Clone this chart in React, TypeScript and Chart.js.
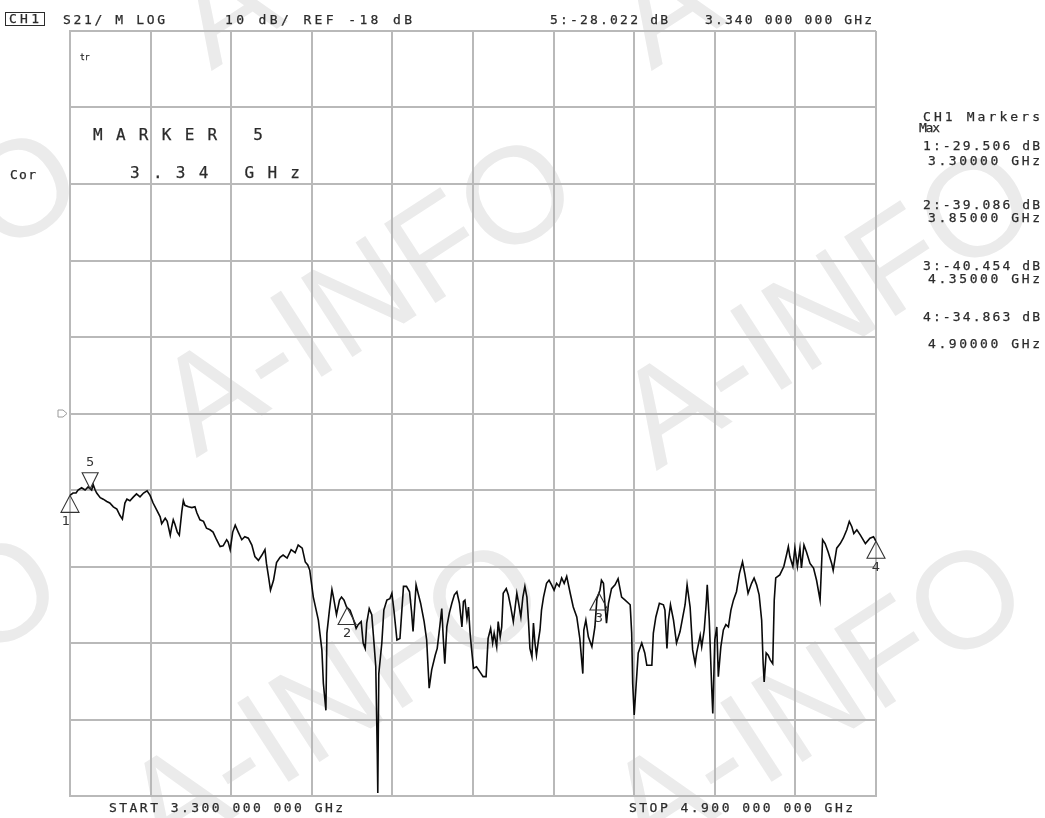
import React, { useEffect, useRef } from "react";
import { Chart, registerables } from "chart.js";

Chart.register(...registerables);

// Sweep points (MHz) and S21 trace (dB)
const FREQ_MHZ = [
  3300, 3306, 3312, 3316, 3323, 3330, 3336, 3343, 3346, 3350,
  3353, 3360, 3366, 3373, 3379, 3386, 3393, 3399, 3404, 3409,
  3413, 3419, 3426, 3432, 3439, 3446, 3453, 3459, 3465, 3472,
  3479, 3482, 3489, 3493, 3499, 3502, 3505, 3508, 3513, 3517,
  3522, 3525, 3528, 3535, 3542, 3548, 3552, 3558, 3565, 3571,
  3578, 3584, 3591, 3598, 3604, 3611, 3614, 3618, 3623, 3628,
  3634, 3641, 3647, 3654, 3661, 3667, 3674, 3681, 3687, 3690,
  3694, 3698, 3704, 3710, 3717, 3723, 3731, 3739, 3747, 3753,
  3761, 3767, 3772, 3776, 3783, 3793, 3800, 3803, 3808, 3810,
  3815, 3820, 3823, 3829, 3835, 3839, 3844, 3849, 3856, 3862,
  3868, 3872, 3878, 3882, 3886, 3889, 3894, 3899, 3903, 3907,
  3910, 3911, 3913, 3919, 3923, 3929, 3935, 3939, 3943, 3949,
  3955, 3962, 3968, 3974, 3978, 3981, 3987, 3991, 3996, 4003,
  4008, 4013, 4018, 4025, 4029, 4034, 4038, 4041, 4044, 4048,
  4053, 4058, 4063, 4068, 4073, 4078, 4081, 4084, 4088, 4091,
  4094, 4097, 4101, 4107, 4114, 4120, 4126, 4130, 4135, 4139,
  4142, 4147, 4150, 4154, 4157, 4160, 4166, 4170, 4175, 4180,
  4183, 4187, 4190, 4195, 4199, 4203, 4207, 4210, 4213, 4217,
  4220, 4223, 4226, 4230, 4233, 4236, 4240, 4246, 4251, 4256,
  4261, 4266, 4271, 4276, 4281, 4286, 4293, 4299, 4306, 4312,
  4318, 4320, 4324, 4329, 4336, 4342, 4346, 4352, 4355, 4359,
  4362, 4365, 4369, 4375, 4382, 4388, 4395, 4402, 4412, 4415,
  4417, 4420, 4424, 4428, 4435, 4441, 4445, 4455, 4458, 4463,
  4470, 4478, 4481, 4485, 4488, 4492, 4498, 4504, 4511, 4521,
  4525, 4531, 4536, 4541, 4544, 4551, 4554, 4559, 4563, 4565,
  4569, 4574, 4576, 4580, 4584, 4587, 4592, 4597, 4602, 4607,
  4612, 4617, 4623, 4629, 4635, 4640, 4646, 4653, 4658, 4663,
  4668, 4673, 4676, 4678, 4682, 4686, 4690, 4695, 4698, 4701,
  4709, 4717, 4723, 4726, 4729, 4735, 4739, 4744, 4749, 4752,
  4757, 4762, 4769, 4776, 4782, 4789, 4794, 4799, 4805, 4812,
  4815, 4822, 4829, 4835, 4842, 4847, 4852, 4856, 4862, 4869,
  4879, 4888, 4895, 4900,
];

const S21_DB = [
  -28.7, -28.4, -28.4, -28.0, -27.7, -28.0, -27.6, -28.0, -27.3, -28.0,
  -28.4, -29.0, -29.2, -29.5, -29.7, -30.2, -30.5, -31.3, -31.8, -29.7,
  -29.2, -29.4, -28.9, -28.5, -28.9, -28.4, -28.1, -28.7, -29.7, -30.6,
  -31.5, -32.4, -31.7, -32.1, -33.9, -32.8, -31.9, -32.4, -33.5, -33.9,
  -30.8, -29.4, -30.0, -30.2, -30.3, -30.2, -31.0, -31.9, -32.1, -33.0,
  -33.2, -33.5, -34.5, -35.4, -35.3, -34.5, -34.8, -35.8, -33.5, -32.6,
  -33.5, -34.5, -34.1, -34.3, -35.2, -36.7, -37.2, -36.5, -35.8, -37.6,
  -39.3, -41.1, -39.8, -37.5, -36.8, -36.5, -36.9, -35.8, -36.2, -35.2,
  -35.6, -37.4, -37.8, -38.5, -42.0, -45.0, -48.9, -53.3, -56.8, -46.7,
  -43.7, -41.0, -42.0, -44.3, -42.4, -42.0, -42.4, -43.3, -43.7, -44.8,
  -46.1, -45.6, -45.2, -48.0, -48.7, -45.4, -43.5, -44.3, -47.6, -51.1,
  -62.4, -67.6, -52.0, -48.0, -43.7, -42.4, -42.2, -41.5, -43.7, -47.6,
  -47.4, -40.6, -40.6, -41.3, -43.9, -46.5, -40.4, -41.5, -42.8, -45.2,
  -47.6, -53.9, -51.5, -49.6, -48.7, -45.9, -43.5, -47.4, -50.7, -45.9,
  -44.1, -42.8, -41.7, -41.3, -42.8, -45.9, -42.6, -42.4, -44.8, -43.3,
  -46.5, -48.7, -51.3, -51.1, -51.8, -52.4, -52.4, -47.4, -46.1, -48.0,
  -46.7, -48.5, -45.2, -47.2, -45.9, -41.5, -40.9, -41.7, -43.3, -45.2,
  -43.7, -41.5, -42.6, -44.6, -42.0, -40.6, -42.0, -45.0, -48.7, -49.8,
  -45.4, -48.0, -49.6, -47.6, -46.3, -43.7, -42.0, -40.2, -39.8, -40.4,
  -41.1, -40.2, -40.6, -39.5, -40.2, -39.3, -41.5, -43.3, -44.6, -47.4,
  -52.0, -46.3, -45.0, -47.2, -48.5, -45.9, -42.2, -41.1, -39.8, -40.2,
  -43.0, -45.4, -42.8, -40.9, -40.4, -39.6, -42.0, -42.4, -43.0, -46.7,
  -53.3, -57.4, -53.3, -49.3, -48.0, -49.3, -50.9, -50.9, -46.7, -44.6,
  -42.8, -43.0, -43.7, -48.7, -45.0, -43.0, -45.0, -48.0, -46.5, -43.0,
  -40.4, -43.3, -48.9, -50.7, -49.3, -47.0, -48.5, -46.3, -42.8, -40.4,
  -45.0, -54.1, -57.2, -47.6, -45.9, -52.4, -48.5, -46.3, -45.6, -45.9,
  -43.7, -42.4, -41.3, -38.9, -37.4, -39.1, -41.5, -40.2, -39.5, -40.4,
  -41.7, -45.0, -50.7, -53.1, -49.3, -49.6, -50.2, -50.7, -42.4, -39.5,
  -39.1, -38.0, -36.3, -35.4, -36.7, -38.0, -35.6, -38.0, -35.6, -38.2,
  -35.2, -36.1, -37.6, -38.2, -39.8, -42.4, -34.5, -35.0, -36.1, -37.6,
  -38.5, -35.6, -35.0, -34.3, -33.2, -32.1, -32.8, -33.7, -33.2, -33.9,
  -35.0, -34.3, -34.1, -34.7,
];

// Grid: 10 divisions each way, 10 dB/div, reference -18 dB at centre line
const X_GRID_MHZ = [3300, 3460, 3620, 3780, 3940, 4100, 4260, 4420, 4580, 4740, 4900];
const Y_GRID_DB = [-68, -58, -48, -38, -28, -18, -8, 2, 12, 22, 32];
const REF_DB = -18;

// Markers
const MARKER_IDS = [1, 2, 3, 4, 5];
const MARKER_FREQ_MHZ = [3300, 3850, 4350, 4900, 3340];
const MARKER_DB = [-29.506, -39.086, -40.454, -34.863, -28.022];
const ACTIVE_MARKER = 5;

const START_LABEL = "START 3.300 000 000 GHz";
const STOP_LABEL = "STOP 4.900 000 000 GHz";

const INK = "#2b2b2b";
const GRID = "#b9b9b9";
const MONO = '"DejaVu Sans Mono", monospace';

function traceAt(f: number): number {
  if (f <= FREQ_MHZ[0]) return S21_DB[0];
  for (let i = 1; i < FREQ_MHZ.length; i++) {
    if (f <= FREQ_MHZ[i]) {
      const t = (f - FREQ_MHZ[i - 1]) / (FREQ_MHZ[i] - FREQ_MHZ[i - 1]);
      return S21_DB[i - 1] + t * (S21_DB[i] - S21_DB[i - 1]);
    }
  }
  return S21_DB[S21_DB.length - 1];
}

const markerPlugin = {
  id: "vnaMarkers",
  afterDatasetsDraw(chart: any) {
    const { ctx, chartArea } = chart;
    const x = chart.scales.x;
    const y = chart.scales.y;
    ctx.save();
    // reference-level pointer at left edge
    const ry = y.getPixelForValue(REF_DB);
    const lx = chartArea.left;
    ctx.strokeStyle = "#9a9a9a";
    ctx.lineWidth = 1;
    ctx.beginPath();
    ctx.moveTo(lx - 12, ry - 3.5);
    ctx.lineTo(lx - 7, ry - 3.5);
    ctx.lineTo(lx - 3, ry);
    ctx.lineTo(lx - 7, ry + 3.5);
    ctx.lineTo(lx - 12, ry + 3.5);
    ctx.closePath();
    ctx.stroke();

    ctx.strokeStyle = "#333";
    ctx.fillStyle = "#333";
    ctx.lineWidth = 1.1;
    ctx.font = '13px "DejaVu Sans"';
    ctx.textAlign = "center";
    ctx.textBaseline = "middle";
    MARKER_IDS.forEach((id, i) => {
      const f = MARKER_FREQ_MHZ[i];
      const px = x.getPixelForValue(f);
      const py = y.getPixelForValue(traceAt(f));
      const active = id === ACTIVE_MARKER;
      const h = active ? 16 : 17;
      const w = active ? 8 : 9;
      ctx.beginPath();
      ctx.moveTo(px, py);
      if (active) {
        ctx.lineTo(px - w, py - h);
        ctx.lineTo(px + w, py - h);
      } else {
        ctx.lineTo(px - w, py + h);
        ctx.lineTo(px + w, py + h);
      }
      ctx.closePath();
      ctx.stroke();
      const ly = active ? py - h - 10 : py + h + 9;
      ctx.fillText(String(id), px - (i === 0 ? 4 : 0), ly);
    });
    ctx.restore();
  },
};

type LabelProps = {
  text: string;
  x: number;
  y: number;
  size?: number;
  width?: number;
  ls?: number;
  family?: string;
  color?: string;
};

function Label({ text, x, y, size = 13, width, ls, family = MONO, color = INK }: LabelProps) {
  let spacing = ls ?? 0;
  if (width !== undefined && text.length > 1) {
    const glyph = 0.602 * size;
    spacing = (width - glyph) / (text.length - 1) - glyph;
  }
  return (
    <div
      style={{
        position: "absolute",
        left: x,
        top: y - size / 2,
        fontFamily: family,
        fontSize: size,
        lineHeight: `${size}px`,
        letterSpacing: `${spacing}px`,
        color,
        whiteSpace: "pre",
        zIndex: 2,
        WebkitTextStroke: "0.25px " + color,
      }}
    >
      {text}
    </div>
  );
}

const WATERMARKS: [number, number][] = [
  [365, 292],
  [825, 305],
  [332, 697],
  [815, 697],
  [380, -95],
  [820, -95],
  [-130, 285],
  [-150, 690],
];

export default function App() {
  const canvasRef = useRef<HTMLCanvasElement>(null);

  useEffect(() => {
    if (!canvasRef.current) return;
    const chart = new Chart(canvasRef.current, {
      type: "line",
      data: {
        datasets: [
          {
            data: FREQ_MHZ.map((f, i) => ({ x: f, y: S21_DB[i] })),
            borderColor: "#0a0a0a",
            borderWidth: 1.6,
            pointRadius: 0,
            tension: 0,
            fill: false,
          },
        ],
      },
      options: {
        animation: false,
        responsive: false,
        devicePixelRatio: 1,
        layout: { padding: { left: 70, right: 169, top: 31, bottom: 22 } },
        plugins: { legend: { display: false }, tooltip: { enabled: false }, title: { display: false } },
        scales: {
          x: {
            type: "linear",
            min: X_GRID_MHZ[0],
            max: X_GRID_MHZ[X_GRID_MHZ.length - 1],
            afterBuildTicks: (s: any) => {
              s.ticks = X_GRID_MHZ.map((v) => ({ value: v }));
            },
            ticks: { display: false },
            grid: { color: GRID, lineWidth: 2, drawTicks: false },
            border: { color: GRID, width: 2 },
          },
          y: {
            type: "linear",
            min: Y_GRID_DB[0],
            max: Y_GRID_DB[Y_GRID_DB.length - 1],
            afterBuildTicks: (s: any) => {
              s.ticks = Y_GRID_DB.map((v) => ({ value: v }));
            },
            ticks: { display: false },
            grid: { color: GRID, lineWidth: 2, drawTicks: false },
            border: { color: GRID, width: 2 },
          },
        },
      },
      plugins: [markerPlugin],
    } as any);
    return () => chart.destroy();
  }, []);

  const active = MARKER_IDS.indexOf(ACTIVE_MARKER);
  const listIdx = MARKER_IDS.map((_, i) => i).filter((i) => MARKER_IDS[i] !== ACTIVE_MARKER);
  const dbRows = [145, 204, 265, 316];
  const fRows = [160, 217, 278, 343];

  return (
    <div
      style={{
        position: "absolute",
        left: 0,
        top: 0,
        width: 1045,
        height: 818,
        background: "#fff",
        overflow: "hidden",
      }}
    >
      {WATERMARKS.map(([cx, cy], i) => (
        <div
          key={"wm" + i}
          style={{
            position: "absolute",
            left: cx,
            top: cy,
            transform: "translate(-50%, -50%) rotate(-33deg)",
            fontFamily: '"Liberation Sans", Arial, sans-serif',
            fontSize: 137,
            lineHeight: "137px",
            color: "#ebebeb",
            whiteSpace: "nowrap",
            zIndex: 0,
          }}
        >
          A-INFO
        </div>
      ))}
      <canvas
        ref={canvasRef}
        width={1045}
        height={818}
        style={{ position: "absolute", left: 0, top: 0, width: 1045, height: 818, zIndex: 1 }}
      />
      <div
        style={{
          position: "absolute",
          left: 5,
          top: 12,
          width: 38,
          height: 12,
          border: `1px solid ${INK}`,
          zIndex: 2,
        }}
      />
      <Label text="CH1" x={9} y={18.5} width={30} />
      <Label text="S21/ M LOG" x={63} y={19} width={102} />
      <Label text="10 dB/ REF -18 dB" x={225} y={19} width={187} />
      <Label
        text={`${ACTIVE_MARKER}:${MARKER_DB[active].toFixed(3)} dB`}
        x={550}
        y={19}
        width={118}
      />
      <Label text={`${(MARKER_FREQ_MHZ[active] / 1000).toFixed(3)} 000 000 GHz`} x={705} y={19} width={167} />
      <Label text="tr" x={80} y={58} size={8} ls={0} />
      <Label text="Cor" x={10} y={174} width={26} />
      <Label text={`MARKER ${ACTIVE_MARKER}`} x={93} y={135} size={16} width={170} />
      <Label text={`${(MARKER_FREQ_MHZ[active] / 1000).toFixed(2)} GHz`} x={130} y={173} size={16} width={170} />
      <Label text="CH1 Markers" x={923} y={116} width={117} />
      <Label text="Max" x={919} y={127} width={21} />
      {listIdx.map((i, r) => (
        <React.Fragment key={"m" + i}>
          <Label text={`${MARKER_IDS[i]}:${MARKER_DB[i].toFixed(3)} dB`} x={923} y={dbRows[r]} width={117} />
          <Label text={`${(MARKER_FREQ_MHZ[i] / 1000).toFixed(5)} GHz`} x={928} y={fRows[r]} width={112} />
        </React.Fragment>
      ))}
      <Label text={START_LABEL} x={109} y={807} width={234} />
      <Label text={STOP_LABEL} x={629} y={807} width={224} />
    </div>
  );
}
